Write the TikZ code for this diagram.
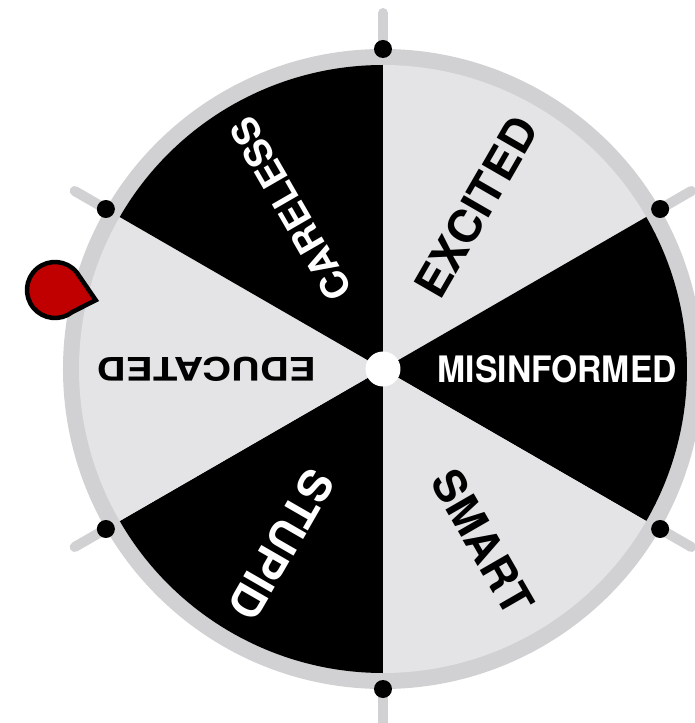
\documentclass[tikz,border=0pt]{standalone}
\usepackage{fontspec}
\setmainfont{TeX Gyre Heros}
\usepackage{graphicx}
\usetikzlibrary{calc}
\definecolor{ringgray}{RGB}{209,209,211}
\definecolor{seglight}{RGB}{228,228,230}
\definecolor{pinred}{RGB}{192,0,0}
\tikzset{
  darkseg/.style={fill=black},
  lightseg/.style={fill=seglight},
  ticklin/.style={draw=ringgray, line width=10pt, line cap=round},
  rimdot/.style={circle, fill=black, minimum size=18pt, inner sep=0pt},
  lbl/.style={anchor=east, inner sep=0pt, font=\bfseries},
}
\newcommand{\lab}[3]{\resizebox{#1pt}{#2pt}{#3}}
\begin{document}
\begin{tikzpicture}[x=1pt,y=1pt]
\useasboundingbox (-383,-354) rectangle (311,369);
% ticks
\foreach \a in {90,30,-30,-90,-150,150}
  \draw[ticklin] (\a:318) -- (\a:356);
% ring
\fill[ringgray] (0,0) circle[radius=320];
% segments
\fill[lightseg] (0,0) -- (90:304) arc[start angle=90,end angle=30,radius=304] -- cycle;
\fill[darkseg]  (0,0) -- (30:304) arc[start angle=30,end angle=-30,radius=304] -- cycle;
\fill[lightseg] (0,0) -- (-30:304) arc[start angle=-30,end angle=-90,radius=304] -- cycle;
\fill[darkseg]  (0,0) -- (-90:304) arc[start angle=-90,end angle=-150,radius=304] -- cycle;
\fill[lightseg] (0,0) -- (-150:304) arc[start angle=-150,end angle=-210,radius=304] -- cycle;
\fill[darkseg]  (0,0) -- (150:304) arc[start angle=150,end angle=90,radius=304] -- cycle;
% rim dots
\foreach \a/\n in {90/d1,30/d2,-30/d3,-90/d4,-150/d5,150/d6}
  \node[rimdot] (\n) at (\a:320) {};
% labels
\node[lbl, rotate=60, text=black] (excited) at (60:287) {\lab{200}{33}{EXCITED}};
\node[lbl, rotate=0, text=white] (misinf) at (0:294) {\lab{239}{27}{MISINFORMED}};
\node[lbl, rotate=-60, text=black] (smart) at (-60:279) {\lab{158}{33}{SMART}};
\node[lbl, rotate=-120, text=white] (stupid) at (-120:285) {\lab{164}{33}{STUPID}};
\node[lbl, rotate=180, text=black] (educated) at (180:286) {\lab{219}{24}{EDUCATED}};
\node[lbl, rotate=120, text=white] (careless) at (120:287) {\lab{204}{28}{CARELESS}};
% hub
\node[circle, fill=white, minimum size=35pt, inner sep=0pt] (hub) at (0,0) {};
% pointer
\coordinate (pc) at (-328,79);
\coordinate (tip) at ($(pc)+(-14:42)$);
\draw[fill=pinred, draw=black, line width=4.5pt, line join=miter]
  (tip) -- ($(pc)+(40:28)$) arc[start angle=40, end angle=308, radius=28] -- cycle;
\end{tikzpicture}
\end{document}
